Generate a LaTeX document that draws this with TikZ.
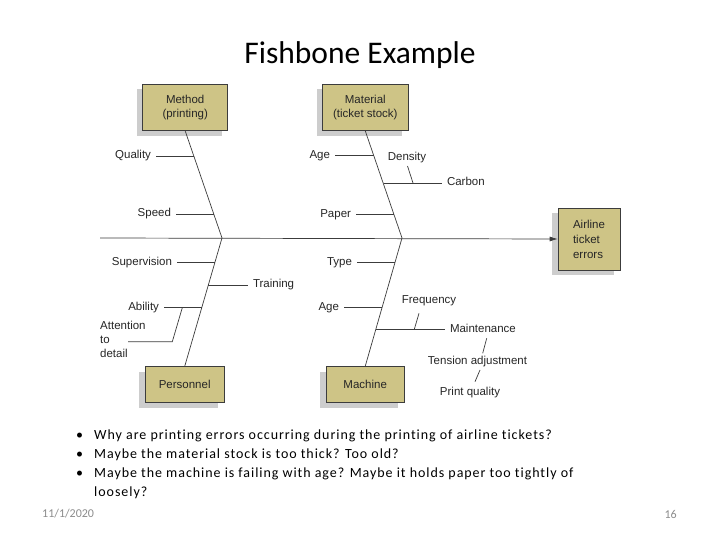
\documentclass[tikz,border=0pt]{standalone}
\usepackage{fontspec}
\setmainfont{Carlito}
\newfontfamily\diagfont{Liberation Sans}
\newfontfamily\bulletfont[LetterSpace=6.8,Ligatures=NoCommon]{Carlito}
\usetikzlibrary{arrows.meta,shadows,calc}
\definecolor{boxfill}{RGB}{206,196,134}
\definecolor{shadowgray}{RGB}{205,205,205}
\definecolor{linegray}{RGB}{60,60,60}
\definecolor{footgray}{RGB}{140,140,140}
\tikzset{
  dfont/.style={font=\diagfont\fontsize{11.5}{14}\selectfont, text=black!85},
  lbl/.style={dfont, inner xsep=5pt, inner ysep=1pt, outer sep=0pt, text height=1.5ex, text depth=0.25ex},
  mlbl/.style={dfont, inner sep=0pt, align=left},
  cbox/.style={dfont, draw=linegray, line width=0.7pt, fill=boxfill, align=center,
    drop shadow={shadow xshift=-6pt, shadow yshift=-5pt, fill=shadowgray, opacity=1}},
  bone/.style={draw=linegray, line width=0.7pt},
  bullettext/.style={font=\bulletfont\fontsize{14}{19}\selectfont, text=black, inner sep=0pt, anchor=base west, align=left},
}
\begin{document}
\begin{tikzpicture}[x=1pt,y=-1pt]
\useasboundingbox[fill=white] (0,0) rectangle (720,540);

% title
\node[font=\fontsize{31.5}{36}\selectfont] (title) at (360,55) {Fishbone Example};

% boxes
\node[cbox, minimum width=85pt, minimum height=46.7pt] (method) at (185.2,107.3) {Method\\(printing)};
\node[cbox, minimum width=85.3pt, minimum height=46.7pt] (material) at (365.3,107.3) {Material\\(ticket stock)};
\node[cbox, minimum width=79.3pt, minimum height=36pt] (personnel) at (184.7,384.7) {Personnel};
\node[cbox, minimum width=78.3pt, minimum height=36pt] (machine) at (365.2,384.7) {Machine};
\node[cbox, align=left, minimum width=62pt, minimum height=62pt, font=\diagfont\fontsize{11.5}{15}\selectfont] (effect) at (589,239) {Airline\\ticket\\errors};

% spine and main bones
\coordinate (tail) at (100,238);
\coordinate (jm) at (222,238);
\coordinate (jn) at (402,238);
\draw[bone, -{Latex[length=8pt,width=5pt]}] (tail) -- (effect.west);
\draw[bone] (method.south) -- (jm);
\draw[bone] (material.south) -- (jn);
\draw[bone] (personnel.north) -- (jm);
\draw[bone] (machine.north) -- (jn);

% Method causes
\node[lbl, anchor=east] (quality) at (156,156) {Quality};
\coordinate (qb) at (193.6,156);
\draw[bone] (quality.east) -- (qb);
\node[lbl, anchor=east] (speed) at (176,214) {Speed};
\coordinate (sb) at (213.7,214);
\draw[bone] (speed.east) -- (sb);

% Material causes
\node[lbl, anchor=east] (age1) at (335,155.5) {Age};
\coordinate (a1b) at (374.1,155.5);
\draw[bone] (age1.east) -- (a1b);
\node[lbl] (density) at (407,157.5) {Density};
\node[lbl, anchor=west] (carbon) at (442,183) {Carbon};
\coordinate (cb) at (383.5,183);
\draw[bone] (cb) -- (carbon.west);
\coordinate (dtop) at (407.5,166);
\coordinate (dbot) at (413,183);
\draw[bone] (dtop) -- (dbot);
\node[lbl, anchor=east] (paper) at (356,214.5) {Paper};
\coordinate (pb) at (394.1,214.5);
\draw[bone] (paper.east) -- (pb);

% Personnel causes
\node[lbl, anchor=east] (supervision) at (177,262.3) {Supervision};
\coordinate (svb) at (214.9,262.3);
\draw[bone] (supervision.east) -- (svb);
\node[lbl, anchor=west] (training) at (248,285) {Training};
\coordinate (tb) at (208.2,285);
\draw[bone] (tb) -- (training.west);
\node[lbl, anchor=east] (ability) at (164,307.7) {Ability};
\coordinate (abb) at (201.5,307.7);
\draw[bone] (ability.east) -- (abb);
\node[mlbl, anchor=north west] (attention) at (100,321) {Attention\\to\\detail};
\coordinate (att1) at (128,341.7);
\coordinate (att2) at (172.3,341.7);
\coordinate (att3) at (182.3,307.7);
\draw[bone] (att1) -- (att2) -- (att3);

% Machine causes
\node[lbl, anchor=east] (type) at (357,262.3) {Type};
\coordinate (tyb) at (395.1,262.3);
\draw[bone] (type.east) -- (tyb);
\node[lbl, anchor=east] (age2) at (344,307.7) {Age};
\coordinate (a2b) at (382,307.7);
\draw[bone] (age2.east) -- (a2b);
\node[lbl] (frequency) at (429,300.7) {Frequency};
\node[lbl, anchor=west] (maintenance) at (445,329.3) {Maintenance};
\coordinate (mb) at (375.8,329.3);
\draw[bone] (mb) -- (maintenance.west);
\coordinate (ftop) at (419,313.3);
\coordinate (fbot) at (414.3,329.3);
\draw[bone] (ftop) -- (fbot);
\node[lbl] (tension) at (477.5,361.7) {Tension adjustment};
\coordinate (mttop) at (486.7,338.3);
\coordinate (mtbot) at (482.7,353.3);
\draw[bone] (mttop) -- (mtbot);
\node[lbl] (printq) at (470,392.7) {Print quality};
\coordinate (tptop) at (480,370);
\coordinate (tpbot) at (475,381.7);
\draw[bone] (tptop) -- (tpbot);

% bullets
\node[bullettext] (d1) at (76,439) {•};
\node[bullettext] (b1) at (94,439) {Why are printing errors occurring during the printing of airline tickets?};
\node[bullettext] (d2) at (76,458) {•};
\node[bullettext] (b2) at (94,458) {Maybe the material stock is too thick? Too old?};
\node[bullettext] (d3) at (76,477) {•};
\node[bullettext] (b3) at (94,496) {Maybe the machine is failing with age? Maybe it holds paper too tightly of\\loosely?};

% footer
\node[font=\fontsize{12}{14}\selectfont, text=footgray, anchor=west, inner sep=0pt] (date) at (42,514) {11/1/2020};
\node[font=\fontsize{12}{14}\selectfont, text=footgray, anchor=east, inner sep=0pt] (page) at (677,514) {16};
\end{tikzpicture}
\end{document}
